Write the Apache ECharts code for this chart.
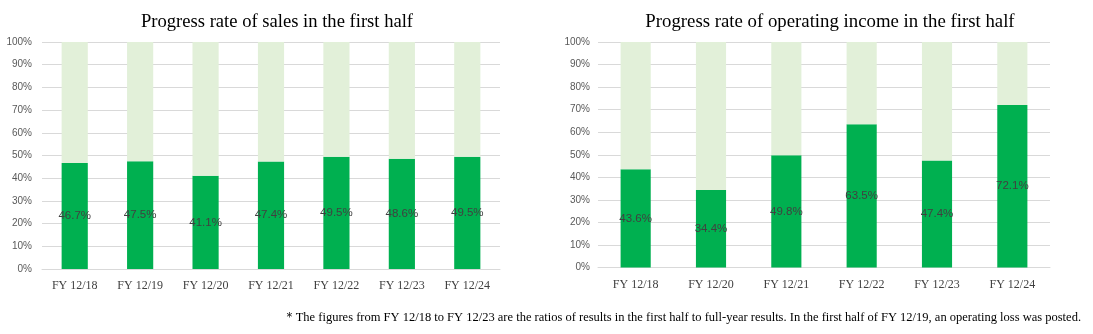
<!DOCTYPE html>
<html><head><meta charset="utf-8">
<script src="https://cdn.jsdelivr.net/npm/echarts@6/dist/echarts.min.js"></script>
<style>html,body{margin:0;padding:0;background:#fff}#c{width:1093px;height:334px}</style>
</head><body><div id="c"></div>
<script>
const salesCats = ['FY 12/18','FY 12/19','FY 12/20','FY 12/21','FY 12/22','FY 12/23','FY 12/24'];
const salesVals = [46.7, 47.5, 41.1, 47.4, 49.5, 48.6, 49.5];
const incomeCats = ['FY 12/18','FY 12/20','FY 12/21','FY 12/22','FY 12/23','FY 12/24'];
const incomeVals = [43.6, 34.4, 49.8, 63.5, 47.4, 72.1];
const yTicks = [0,10,20,30,40,50,60,70,80,90,100];
const titles = ['Progress rate of sales in the first half','Progress rate of operating income in the first half'];
const footnote = '＊The figures from FY 12/18 to FY 12/23 are the ratios of results in the first half to full-year results. In the first half of FY 12/19, an operating loss was posted.';

const DARK = '#00B050', LIGHT = '#E2F0D9';
const serif = '"Liberation Serif","Times New Roman",serif';
const sans = '"Liberation Sans",Arial,sans-serif';

function xAxis(idx, cats){
  return {type:'category', gridIndex:idx, data:cats,
    axisLine:{lineStyle:{color:'#D9D9D9'}}, axisTick:{show:false},
    axisLabel:{fontFamily:serif, fontSize:12, color:'#404040', margin:11}};
}
function yAxis(idx, margin){
  return {type:'value', gridIndex:idx, min:yTicks[0], max:yTicks[yTicks.length-1], interval:yTicks[1]-yTicks[0],
    axisLabel:{formatter:v=>v+'%', fontFamily:sans, fontSize:10, color:'#595959', margin:margin},
    splitLine:{lineStyle:{color:'#D9D9D9'}}, axisLine:{show:false}, axisTick:{show:false}};
}
function series(idx, vals){
  return [
    {type:'bar', xAxisIndex:idx, yAxisIndex:idx, stack:'s'+idx, data:vals, barWidth:'40%',
      itemStyle:{color:DARK},
      label:{show:true, position:'inside', formatter:p=>p.value.toFixed(1)+'%',
        fontFamily:sans, fontSize:11.5, color:'#404040'}},
    {type:'bar', xAxisIndex:idx, yAxisIndex:idx, stack:'s'+idx,
      data:vals.map(v=>+(100-v).toFixed(1)), barWidth:'40%',
      itemStyle:{color:LIGHT}, silent:true}
  ];
}
const chart = echarts.init(document.getElementById('c'));
chart.setOption({
  animation:false,
  title:[
    {text:titles[0], left:272, textAlign:'center', top:8, textStyle:{fontFamily:serif, fontSize:18.6, fontWeight:'normal', color:'#000'}},
    {text:titles[1], left:825, textAlign:'center', top:8, textStyle:{fontFamily:serif, fontSize:18.8, fontWeight:'normal', color:'#000'}},
    {text:footnote, right:7, top:306, textStyle:{fontFamily:serif, fontSize:12.5, fontWeight:'normal', color:'#000'}}
  ],
  grid:[
    {left:42, right:593, top:42, bottom:65},
    {left:598, right:43, top:42, bottom:66.5}
  ],
  xAxis:[xAxis(0, salesCats), xAxis(1, incomeCats)],
  yAxis:[yAxis(0, 10), yAxis(1, 8)],
  series:[...series(0, salesVals), ...series(1, incomeVals)]
});
</script></body></html>
